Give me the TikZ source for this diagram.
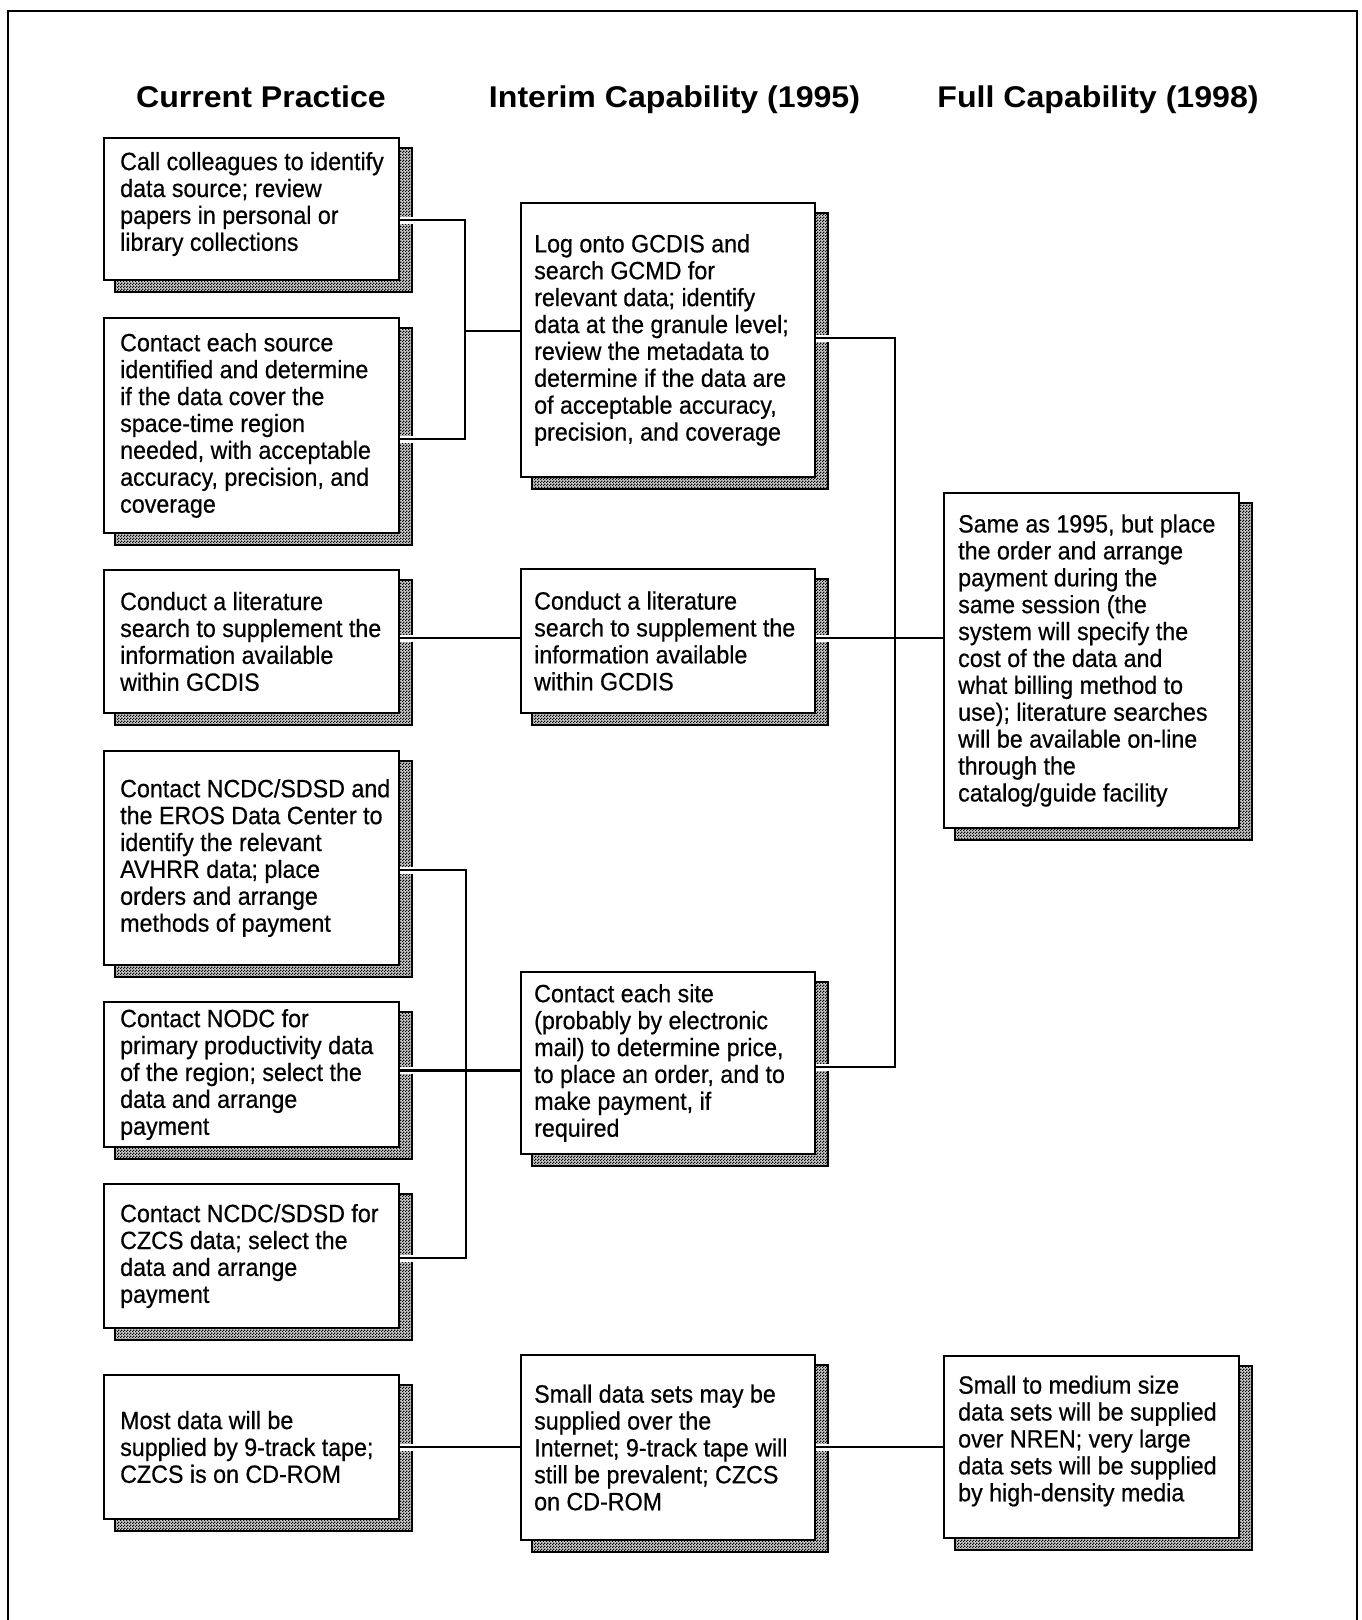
\documentclass[tikz,border=0pt]{standalone}
\usepackage{fontspec}
\setmainfont[FakeStretch=0.93,FakeBold=0.5]{Liberation Sans}
\newfontfamily\hdrfont[FakeStretch=1.07]{Liberation Sans}
\usetikzlibrary{patterns,backgrounds}
\pgfdeclarepatternformonly{chk}{\pgfpointorigin}{\pgfqpoint{3pt}{3pt}}{\pgfqpoint{3pt}{3pt}}{%
  \pgfpathrectangle{\pgfpointorigin}{\pgfqpoint{1.5pt}{1.5pt}}%
  \pgfpathrectangle{\pgfqpoint{1.5pt}{1.5pt}}{\pgfqpoint{1.5pt}{1.5pt}}%
  \pgfusepath{fill}}
\tikzset{
  box/.style={draw, line width=2pt, fill=white, inner sep=0pt, rectangle},
  colA/.style={box, minimum width=295pt},
  colB/.style={box, minimum width=294pt},
  colC/.style={box, minimum width=295pt},
  txt/.style={align=left, inner sep=0pt, anchor=west, font=\fontsize{25}{26.9}\selectfont},
  hdr/.style={font=\hdrfont\bfseries\fontsize{30}{32}\selectfont, anchor=base, inner sep=0pt},
  shadowbox/.style={draw, line width=1.4pt, preaction={fill=gray!40}, pattern=chk},
  link/.style={line width=2.4pt},
  gapline/.style={draw=white, line width=7pt},
  frame/.style={line width=2.5pt}
}
\begin{document}
\begin{tikzpicture}[x=1pt,y=-1pt]
\useasboundingbox (0,0) rectangle (1361,1620);
\draw[frame] (8,1625) -- (8,11) -- (1357,11) -- (1357,1625);

% headers
\node[hdr] (h1) at (261,107) {Current Practice};
\node[hdr] (h2) at (674.5,107) {Interim Capability (1995)};
\node[hdr] (h3) at (1098,107) {Full Capability (1998)};

% column 1
\node[colA, minimum height=142pt] (b1) at (251.5,209) {};
\node[colA, minimum height=215pt] (b2) at (251.5,425.5) {};
\node[colA, minimum height=143pt] (b3) at (251.5,641.5) {};
\node[colA, minimum height=214pt] (b4) at (251.5,858) {};
\node[colA, minimum height=145pt] (b5) at (251.5,1074.5) {};
\node[colA, minimum height=144pt] (b6) at (251.5,1256) {};
\node[colA, minimum height=144pt] (b7) at (251.5,1447) {};
% column 2
\node[colB, minimum height=274pt] (m1) at (668,340) {};
\node[colB, minimum height=144pt] (m2) at (668,641) {};
\node[colB, minimum height=182pt] (m3) at (668,1063) {};
\node[colB, minimum height=185pt] (m4) at (668,1447.5) {};
% column 3
\node[colC, minimum height=335pt] (r1) at (1091.5,660.5) {};
\node[colC, minimum height=182pt] (r2) at (1091.5,1447) {};

% shadows and gaps
\begin{scope}[on background layer]
\foreach \n in {b1,b2,b3,b4,b5,b6,b7,m1,m2,m3,m4,r1,r2}{
  \draw[shadowbox] ([shift={(12,11)}]\n.south west) rectangle ([shift={(12,11)}]\n.north east);
}
\coordinate (j1) at (465,331);
\coordinate (j2) at (895,638);
\coordinate (j3) at (466,1070.6);
\draw[gapline] ([yshift=-11pt]b1.east) -- ++(16,0);
\draw[gapline] ([yshift=-13.5pt]b2.east) -- ++(16,0);
\draw[gapline] (b3.east |- j2) -- ++(16,0);
\draw[gapline] ([yshift=-12pt]b4.east) -- ++(16,0);
\draw[gapline] (b5.east |- j3) -- ++(16,0);
\draw[gapline] ([yshift=-2pt]b6.east) -- ++(16,0);
\draw[gapline] (b7.east) -- ++(16,0);
\draw[gapline] ([yshift=2pt]m1.east) -- ++(16,0);
\draw[gapline] (m2.east |- j2) -- ++(16,0);
\draw[gapline] ([yshift=-4pt]m3.east) -- ++(16,0);
\draw[gapline] (m4.east |- b7.east) -- ++(16,0);
\end{scope}

% texts
\node[txt] (tb1) at ([xshift=17pt,yshift=5pt]b1.west) {Call colleagues to identify\\data source; review\\papers in personal or\\library collections};
\node[txt] (tb2) at ([xshift=17pt]b2.west) {Contact each source\\identified and determine\\if the data cover the\\space-time region\\needed, with acceptable\\accuracy, precision, and\\coverage};
\node[txt] (tb3) at ([xshift=17pt]b3.west) {Conduct a literature\\search to supplement the\\information available\\within GCDIS};
\node[txt] (tb4) at ([xshift=17pt]b4.west) {Contact NCDC/SDSD and\\the EROS Data Center to\\identify the relevant\\AVHRR data; place\\orders and arrange\\methods of payment};
\node[txt] (tb5) at ([xshift=17pt]b5.west) {Contact NODC for\\primary productivity data\\of the region; select the\\data and arrange\\payment};
\node[txt] (tb6) at ([xshift=17pt]b6.west) {Contact NCDC/SDSD for\\CZCS data; select the\\data and arrange\\payment};
\node[txt] (tb7) at ([xshift=17pt]b7.west) {Most data will be\\supplied by 9-track tape;\\CZCS is on CD-ROM};
\node[txt] (tm1) at ([xshift=14pt]m1.west) {Log onto GCDIS and\\search GCMD for\\relevant data; identify\\data at the granule level;\\review the metadata to\\determine if the data are\\of acceptable accuracy,\\precision, and coverage};
\node[txt] (tm2) at ([xshift=14pt]m2.west) {Conduct a literature\\search to supplement the\\information available\\within GCDIS};
\node[txt] (tm3) at ([xshift=14pt]m3.west) {Contact each site\\(probably by electronic\\mail) to determine price,\\to place an order, and to\\make payment, if\\required};
\node[txt] (tm4) at ([xshift=14pt]m4.west) {Small data sets may be\\supplied over the\\Internet; 9-track tape will\\still be prevalent; CZCS\\on CD-ROM};
\node[txt] (tr1) at ([xshift=15pt]r1.west) {Same as 1995, but place\\the order and arrange\\payment during the\\same session (the\\system will specify the\\cost of the data and\\what billing method to\\use); literature searches\\will be available on-line\\through the\\catalog/guide facility};
\node[txt] (tr2) at ([xshift=15pt,yshift=6pt]r2.west) {Small to medium size\\data sets will be supplied\\over NREN; very large\\data sets will be supplied\\by high-density media};

% connectors
\draw[link] ([yshift=-11pt]b1.east) -| (j1) |- ([yshift=-13.5pt]b2.east);
\draw[link] (j1) -- (j1 -| m1.west);
\draw[link] ([yshift=2pt]m1.east) -| (j2) |- ([yshift=-4pt]m3.east);
\draw[link] (b3.east |- j2) -- (m2.west |- j2);
\draw[link] (m2.east |- j2) -- (r1.west |- j2);
\draw[link] ([yshift=-12pt]b4.east) -| (j3) |- ([yshift=-2pt]b6.east);
\draw[link] (b5.east |- j3) -- (m3.west |- j3);
\draw[link] (b7.east) -- (m4.west |- b7.east);
\draw[link] (m4.east |- b7.east) -- (r2.west |- b7.east);
\end{tikzpicture}
\end{document}
